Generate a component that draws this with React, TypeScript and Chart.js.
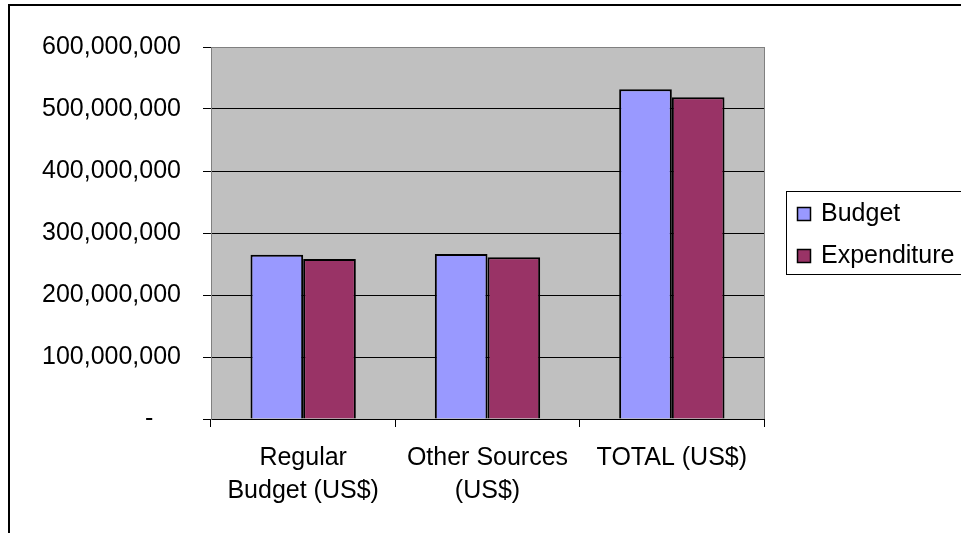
import React, { useEffect, useRef } from "react";
import { Chart, registerables } from "chart.js";

Chart.register(...registerables);

const categories: string[][] = [["Regular", "Budget (US$)"], ["Other Sources", "(US$)"], ["TOTAL (US$)"]];
const seriesNames = ["Budget", "Expenditure"];
const budget = [265000000, 266000000, 532000000];
const expenditure = [258000000, 261000000, 519000000];
const seriesColors = ["#9999FF", "#993366"];
const yMin = 0;
const yMax = 600000000;
const yStep = 100000000;

const FONT = "'Liberation Sans', Arial, sans-serif";
const FONT_SIZE = 25;

const framePlugin = {
  id: "frame",
  beforeDraw(chart: any) {
    const { ctx, chartArea } = chart;
    ctx.save();
    ctx.fillStyle = "#FFFFFF";
    ctx.fillRect(0, 0, chart.width, chart.height);
    ctx.fillStyle = "#C0C0C0";
    ctx.fillRect(chartArea.left, chartArea.top, chartArea.right - chartArea.left, chartArea.bottom - chartArea.top);
    ctx.restore();
  },
  beforeDatasetsDraw(chart: any) {
    const { ctx, chartArea } = chart;
    ctx.save();
    ctx.strokeStyle = "#808080";
    ctx.lineWidth = 1;
    ctx.beginPath();
    ctx.moveTo(Math.round(chartArea.right) + 0.5, chartArea.top);
    ctx.lineTo(Math.round(chartArea.right) + 0.5, chartArea.bottom);
    ctx.stroke();
    ctx.restore();
  },
  afterDraw(chart: any) {
    const { ctx } = chart;
    ctx.save();
    // outer chart border (cut off at right and bottom)
    ctx.strokeStyle = "#000";
    ctx.lineWidth = 2;
    ctx.strokeRect(9, 5, 1200, 1200);
    // legend
    ctx.lineWidth = 1;
    ctx.strokeRect(786.5, 191.5, 400, 83);
    ctx.font = `${FONT_SIZE}px ${FONT}`;
    ctx.textBaseline = "alphabetic";
    ctx.textAlign = "left";
    const baselines = [221, 263];
    seriesNames.forEach((name, i) => {
      const b = baselines[i];
      ctx.fillStyle = seriesColors[i];
      ctx.fillRect(797, b - 14, 14, 14);
      ctx.strokeStyle = "#000";
      ctx.lineWidth = 1.5;
      ctx.strokeRect(797.5, b - 13.5, 13, 13);
      ctx.fillStyle = "#000";
      ctx.fillText(name, 821, b);
    });
    ctx.restore();
  },
};

export default function App() {
  const ref = useRef<HTMLCanvasElement>(null);
  useEffect(() => {
    const chart = new Chart(ref.current!, {
      type: "bar",
      data: {
        labels: categories as any,
        datasets: [
          { label: seriesNames[0], data: budget, backgroundColor: seriesColors[0], borderColor: "#000", borderWidth: 2 },
          { label: seriesNames[1], data: expenditure, backgroundColor: seriesColors[1], borderColor: "#000", borderWidth: 2 },
        ],
      },
      options: {
        responsive: false,
        animation: false,
        devicePixelRatio: 1,
        layout: { padding: { left: 0, top: 47, right: 197, bottom: 0 } },
        datasets: { bar: { categoryPercentage: 2 / 3.5, barPercentage: 1 } } as any,
        plugins: { legend: { display: false }, tooltip: { enabled: false } },
        scales: {
          x: {
            afterFit(scale: any) { scale.height = 114; },
            grid: { offset: true, drawOnChartArea: false, drawTicks: true, tickLength: 8, color: "#000" },
            border: { display: true, color: "#000", width: 1 },
            ticks: {
              autoSkip: false, maxRotation: 0, minRotation: 0, padding: 15, color: "#000",
              font: { family: FONT, size: FONT_SIZE, lineHeight: 1.32 },
            },
          },
          y: {
            min: yMin, max: yMax,
            afterFit(scale: any) { scale.width = 211; },
            grid: {
              color: (c: any) => (c.tick && c.tick.value === yMax ? "#808080" : "#000"),
              tickColor: "#000", tickLength: 8, drawTicks: true,
            },
            border: { display: true, color: "#808080", width: 1 },
            ticks: {
              stepSize: yStep, padding: 22, color: "#000",
              font: { family: FONT, size: FONT_SIZE },
              callback: (v: any) => (Number(v) === 0 ? "-    " : Number(v).toLocaleString("en-US")),
            },
          },
        },
      },
      plugins: [framePlugin],
    });
    return () => chart.destroy();
  }, []);
  return (
    <div style={{ position: "absolute", left: 0, top: 0, width: 961, height: 533 }}>
      <canvas ref={ref} width={961} height={533} />
    </div>
  );
}
